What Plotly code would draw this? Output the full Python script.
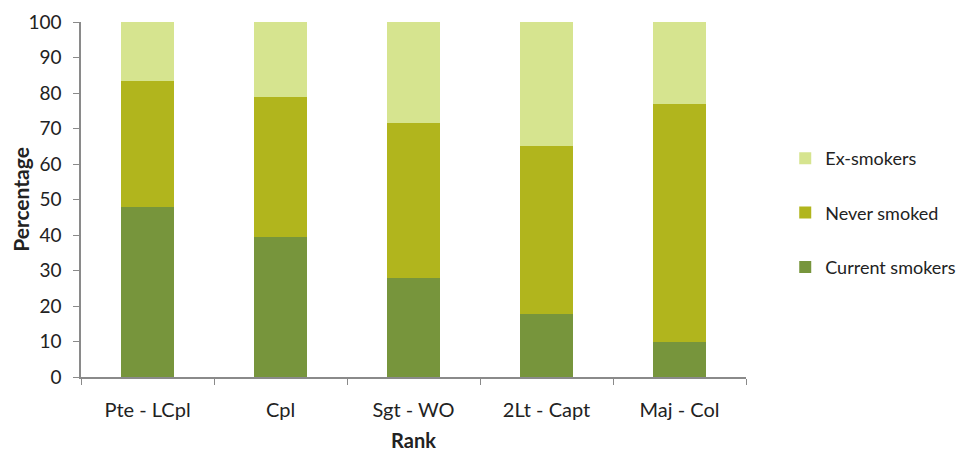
import plotly.graph_objects as go

categories = ["Pte - LCpl", "Cpl", "Sgt - WO", "2Lt - Capt", "Maj - Col"]
current_smokers = [48.0, 39.5, 28.0, 17.7, 10.0]
never_smoked = [35.5, 39.5, 43.6, 47.5, 67.0]
ex_smokers = [16.5, 21.0, 28.4, 34.8, 23.0]
y_ticks = [0, 10, 20, 30, 40, 50, 60, 70, 80, 90, 100]

colors = {"Current smokers": "#77953C", "Never smoked": "#B1B51D", "Ex-smokers": "#D6E48F"}
ranks = {"Current smokers": 3, "Never smoked": 2, "Ex-smokers": 1}

fig = go.Figure()
for name, vals in [("Current smokers", current_smokers), ("Never smoked", never_smoked), ("Ex-smokers", ex_smokers)]:
    fig.add_trace(go.Bar(x=categories, y=vals, name=name, legendgroup=name, legendrank=ranks[name],
                         marker=dict(color=colors[name], line=dict(width=0)), width=0.4))

font_family = "Lato, Open Sans, sans-serif"
fig.update_layout(
    barmode="stack",
    width=968, height=451,
    margin=dict(l=73, r=230, t=14, b=82, autoexpand=False),
    plot_bgcolor="white", paper_bgcolor="white",
    font=dict(family=font_family, size=19, color="#222222"),
    showlegend=True,
    legend=dict(traceorder="grouped", tracegroupgap=28, x=1.059, y=0.462, yanchor="middle",
                xanchor="left", font=dict(size=18, color="#222222"), itemwidth=30),
    xaxis=dict(title=dict(text="<b>Rank</b>", font=dict(size=20), standoff=14), automargin=False,
               showline=True, linecolor="#8a8a8a", linewidth=1.5, ticks="outside", tickson="boundaries",
               ticklen=6, tickcolor="#8a8a8a", tickfont=dict(size=20), range=[-0.5, 4.5],
               ticklabelstandoff=14),
    yaxis=dict(title=dict(text="<b>Percentage</b>", font=dict(size=21), standoff=2), automargin=False,
               range=[0, 100], tickvals=y_ticks, showline=True, linecolor="#8a8a8a", linewidth=1.5,
               ticks="outside", ticklen=6, tickcolor="#8a8a8a", showgrid=False, zeroline=False,
               tickfont=dict(size=19), ticklabelstandoff=8),
)
fig.write_html("out.html")
